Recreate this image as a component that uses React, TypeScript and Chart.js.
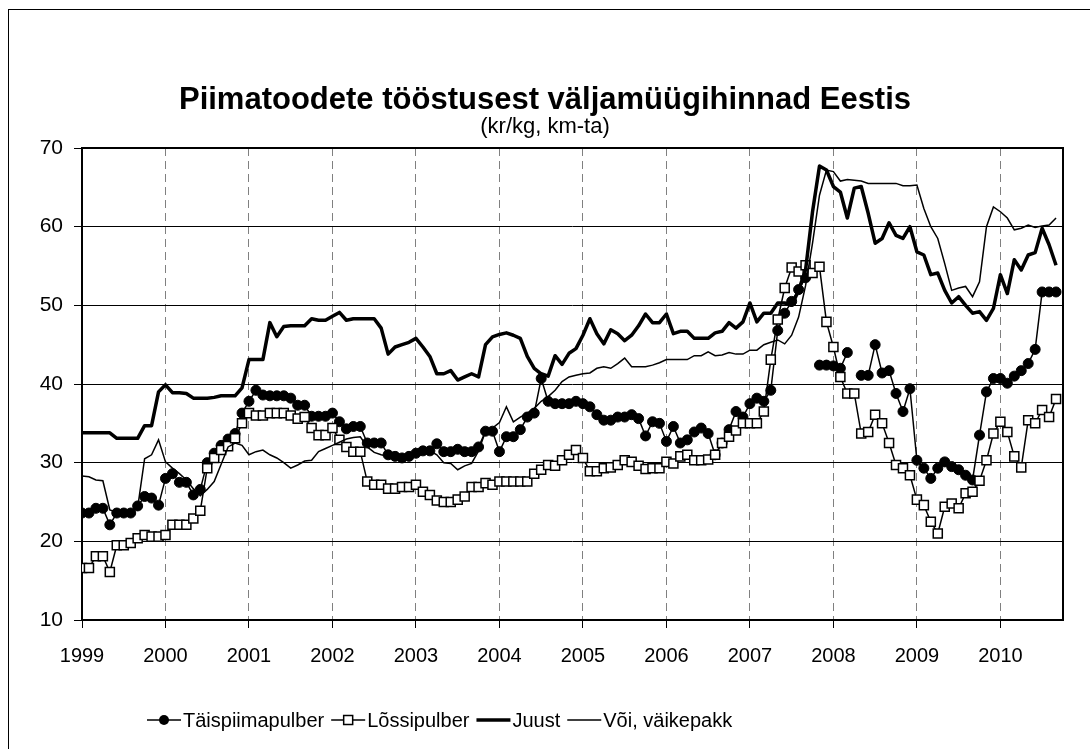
import React, { useEffect, useRef } from 'react';
import { Chart, registerables } from 'chart.js';

Chart.register(...registerables);

const FONT = '"Liberation Sans", Arial, Helvetica, sans-serif';

const titleText = 'Piimatoodete tööstusest väljamüügihinnad Eestis';
const subtitleText = '(kr/kg, km-ta)';

const yearLabels = ['1999', '2000', '2001', '2002', '2003', '2004', '2005', '2006', '2007', '2008', '2009', '2010'];
const yTicks = [10, 20, 30, 40, 50, 60, 70];

const seriesNames = ['Täispiimapulber', 'Lõssipulber', 'Juust', 'Või, väikepakk'];

// monthly values, Jan 1999 ... Sep 2010 (kr/kg)
const taispiimapulber: (number | null)[] = [
  23.6, 23.6, 24.2, 24.2, 22.1, 23.6, 23.6, 23.6, 24.5, 25.7, 25.5, 24.6,
  28.0, 28.6, 27.5, 27.5, 25.9, 26.6, 30.0, 31.2, 32.2, 33.0, 33.7, 36.3,
  37.8, 39.2, 38.6, 38.5, 38.5, 38.5, 38.2, 37.3, 37.3, 35.9, 35.9, 35.9,
  36.3, 35.2, 34.3, 34.6, 34.6, 32.5, 32.5, 32.5, 31.0, 30.8, 30.6, 30.8,
  31.2, 31.5, 31.5, 32.4, 31.4, 31.4, 31.7, 31.4, 31.4, 32.0, 34.0, 34.0,
  31.4, 33.3, 33.3, 34.2, 35.8, 36.3, 40.7, 37.8, 37.5, 37.5, 37.5, 37.8,
  37.5, 37.1, 36.1, 35.4, 35.4, 35.8, 35.8, 36.1, 35.6, 33.4, 35.2, 35.0,
  32.7, 34.6, 32.5, 32.9, 33.9, 34.4, 33.7, 31.0, 32.5, 34.2, 36.5, 35.8,
  37.5, 38.2, 37.8, 39.2, 46.8, 49.0, 50.5, 52.0, 53.5, null, 42.4, 42.4,
  42.3, 42.0, 44.0, null, 41.1, 41.1, 45.0, 41.4, 41.7, 38.8, 36.5, 39.4,
  30.3, 29.3, 28.0, 29.3, 30.1, 29.5, 29.1, 28.4, 27.8, 33.5, 39.0, 40.7,
  40.7, 40.1, 41.0, 41.7, 42.6, 44.4, 51.7, 51.7, 51.7,
];

const lossipulber: (number | null)[] = [
  16.6, 16.6, 18.1, 18.1, 16.1, 19.5, 19.5, 19.8, 20.4, 20.8, 20.6, 20.6,
  20.8, 22.1, 22.1, 22.1, 22.9, 23.9, 29.3, 30.6, 31.6, 32.1, 33.1, 35.0,
  36.3, 36.0, 36.0, 36.3, 36.3, 36.3, 36.0, 35.6, 35.8, 34.4, 33.5, 33.5,
  34.4, 32.9, 32.0, 31.4, 31.4, 27.6, 27.2, 27.2, 26.7, 26.7, 26.9, 26.9,
  27.2, 26.3, 25.9, 25.2, 25.0, 25.0, 25.3, 25.7, 26.9, 26.9, 27.4, 27.2,
  27.6, 27.6, 27.6, 27.6, 27.6, 28.6, 29.1, 29.7, 29.6, 30.3, 31.0, 31.6,
  30.6, 28.9, 28.9, 29.3, 29.4, 29.7, 30.3, 30.1, 29.6, 29.2, 29.3, 29.3,
  30.1, 29.9, 30.8, 31.0, 30.3, 30.3, 30.4, 31.0, 32.5, 33.3, 34.1, 35.0,
  35.0, 35.0, 36.5, 43.1, 48.2, 52.2, 54.8, 54.3, 55.1, 54.1, 54.9, 47.9,
  44.7, 40.9, 38.8, 38.8, 33.7, 33.9, 36.1, 35.0, 32.5, 29.7, 29.3, 28.4,
  25.3, 24.6, 22.5, 21.0, 24.4, 24.8, 24.2, 26.1, 26.3, 27.7, 30.3, 33.7,
  35.2, 33.9, 30.8, 29.4, 35.4, 35.0, 36.7, 35.8, 38.1,
];

const juust: (number | null)[] = [
  33.8, 33.8, 33.8, 33.8, 33.8, 33.1, 33.1, 33.1, 33.1, 34.7, 34.7, 39.0,
  39.9, 38.9, 38.9, 38.8, 38.2, 38.2, 38.2, 38.3, 38.5, 38.5, 38.5, 39.5,
  43.1, 43.1, 43.1, 47.8, 46.0, 47.3, 47.4, 47.4, 47.4, 48.3, 48.1, 48.1,
  48.6, 49.1, 48.1, 48.3, 48.3, 48.3, 48.3, 47.1, 43.8, 44.7, 45.0, 45.3,
  45.8, 44.7, 43.5, 41.3, 41.3, 41.7, 40.5, 40.9, 41.3, 40.9, 45.0, 46.0,
  46.3, 46.5, 46.2, 45.8, 43.5, 42.0, 41.3, 41.0, 43.6, 42.5, 43.9, 44.5,
  46.2, 48.3, 46.4, 45.1, 46.9, 46.4, 45.5, 46.2, 47.4, 48.9, 47.8, 47.8,
  48.9, 46.4, 46.7, 46.7, 45.8, 45.8, 45.8, 46.5, 46.7, 47.8, 47.1, 47.9,
  50.3, 47.9, 49.0, 49.0, 50.3, 50.3, 50.0, 51.9, 54.5, 61.9, 67.7, 67.2,
  65.1, 64.4, 61.1, 64.9, 65.1, 61.7, 57.9, 58.5, 60.5, 58.9, 58.5, 60.0,
  56.8, 56.4, 53.9, 54.1, 51.9, 50.3, 51.1, 50.0, 49.0, 49.2, 48.1, 49.6,
  53.9, 51.5, 55.8, 54.5, 56.4, 56.7, 59.8, 57.7, 55.1,
];

const voiVaikepakk: (number | null)[] = [
  28.3, 28.2, 27.8, 27.7, 24.0, 23.7, 23.7, 23.7, 24.3, 30.5, 31.0, 32.9,
  30.1, 29.3, 28.6, 27.8, 26.7, 25.8, 26.6, 27.6, 29.8, 32.0, 32.5, 32.2,
  31.0, 31.4, 31.6, 31.0, 30.6, 30.0, 29.3, 29.7, 30.2, 30.3, 31.4, 31.8,
  32.2, 32.6, 33.0, 33.2, 33.3, 32.0, 31.3, 31.0, 30.8, 30.8, 30.8, 30.8,
  31.2, 31.5, 31.5, 31.0, 30.0, 29.9, 29.1, 29.6, 29.9, 31.5, 34.0, 34.4,
  35.1, 37.1, 35.2, 35.8, 36.3, 36.9, 37.8, 38.4, 39.2, 40.3, 40.9, 41.1,
  41.3, 41.4, 42.0, 42.2, 42.0, 42.6, 43.3, 42.2, 42.2, 42.2, 42.4, 42.7,
  43.1, 43.1, 43.1, 43.1, 43.6, 43.6, 44.1, 43.6, 43.7, 44.0, 43.8, 43.8,
  44.3, 44.3, 45.0, 45.3, 45.6, 45.1, 46.2, 48.5, 52.5, 57.9, 64.0, 67.2,
  67.0, 65.8, 66.0, 65.9, 65.8, 65.5, 65.5, 65.5, 65.5, 65.5, 65.2, 65.2,
  65.3, 62.3, 60.0, 58.5, 55.3, 51.9, 52.2, 52.4, 51.1, 53.0, 60.0, 62.5,
  61.9, 61.1, 59.6, 59.8, 60.2, 59.9, 60.1, 60.2, 61.1,
];

const toPoints = (arr: (number | null)[]) => arr.map((v, i) => ({ x: i, y: v }));

const drawMarker = (ctx: CanvasRenderingContext2D, kind: string, x: number, y: number) => {
  if (kind === 'circle') {
    ctx.beginPath();
    ctx.arc(x, y, 5, 0, Math.PI * 2);
    ctx.fillStyle = '#000';
    ctx.fill();
  } else if (kind === 'rect') {
    ctx.beginPath();
    ctx.rect(x - 4.5, y - 4.5, 9, 9);
    ctx.fillStyle = '#fff';
    ctx.fill();
    ctx.lineWidth = 1.5;
    ctx.strokeStyle = '#000';
    ctx.stroke();
  }
};

const legendKinds = ['circle', 'rect', 'none', 'none'];
const legendWidths = [1.5, 1.5, 3.5, 1.5];

const decorPlugin = {
  id: 'decor',
  beforeDraw(chart: any) {
    const { ctx, width, height } = chart;
    ctx.save();
    ctx.fillStyle = '#fff';
    ctx.fillRect(0, 0, width, height);
    ctx.strokeStyle = '#000';
    ctx.lineWidth = 1;
    ctx.strokeRect(8.5, 9.5, width + 50, height + 50);
    ctx.fillStyle = '#000';
    ctx.textAlign = 'center';
    ctx.textBaseline = 'alphabetic';
    ctx.font = `bold 31px ${FONT}`;
    ctx.fillText(titleText, 545, 109);
    ctx.font = `22px ${FONT}`;
    ctx.fillText(subtitleText, 545, 133);
    ctx.restore();
  },
  beforeDatasetsDraw(chart: any) {
    const { ctx, chartArea: a } = chart;
    ctx.save();
    ctx.strokeStyle = '#000';
    ctx.lineWidth = 2;
    ctx.strokeRect(a.left, a.top, a.right - a.left, a.bottom - a.top);
    ctx.restore();
  },
  afterDraw(chart: any) {
    const { ctx } = chart;
    ctx.save();
    ctx.font = `20px ${FONT}`;
    ctx.textBaseline = 'middle';
    ctx.textAlign = 'left';
    const y = 720;
    let x = 147;
    seriesNames.forEach((name, i) => {
      ctx.strokeStyle = '#000';
      ctx.lineWidth = legendWidths[i];
      ctx.beginPath();
      ctx.moveTo(x, y);
      ctx.lineTo(x + 34, y);
      ctx.stroke();
      drawMarker(ctx, legendKinds[i], x + 17, y);
      x += 36;
      ctx.fillStyle = '#000';
      ctx.fillText(name, x, y + 1);
      x += ctx.measureText(name).width + 7;
    });
    ctx.restore();
  },
};

export default function App() {
  const canvasRef = useRef<HTMLCanvasElement | null>(null);

  useEffect(() => {
    const canvas = canvasRef.current;
    if (!canvas) return;
    const chart = new Chart(canvas, {
      type: 'line',
      data: {
        datasets: [
          {
            label: seriesNames[0],
            data: toPoints(taispiimapulber),
            borderColor: '#000',
            backgroundColor: '#000',
            borderWidth: 1.5,
            pointStyle: 'circle',
            pointRadius: 5,
            pointBorderWidth: 1,
            pointBackgroundColor: '#000',
            pointBorderColor: '#000',
            tension: 0,
            spanGaps: false,
            order: 3,
          },
          {
            label: seriesNames[1],
            data: toPoints(lossipulber),
            borderColor: '#000',
            backgroundColor: '#fff',
            borderWidth: 1.5,
            pointStyle: 'rect',
            pointRadius: 6.4,
            pointBorderWidth: 1.5,
            pointBackgroundColor: '#fff',
            pointBorderColor: '#000',
            tension: 0,
            order: 2,
          },
          {
            label: seriesNames[2],
            data: toPoints(juust),
            borderColor: '#000',
            borderWidth: 3.5,
            pointRadius: 0,
            tension: 0,
            borderJoinStyle: 'round',
            order: 1,
          },
          {
            label: seriesNames[3],
            data: toPoints(voiVaikepakk),
            borderColor: '#000',
            borderWidth: 1.5,
            pointRadius: 0,
            tension: 0,
            order: 0,
          },
        ],
      },
      options: {
        responsive: false,
        animation: false,
        events: [],
        layout: { padding: { left: 0, top: 148, right: 27, bottom: 69 } },
        plugins: {
          legend: { display: false },
          title: { display: false },
          tooltip: { enabled: false },
        },
        scales: {
          x: {
            type: 'linear',
            min: 0,
            max: 141,
            afterBuildTicks: (scale: any) => {
              scale.ticks = yearLabels.map((_, i) => ({ value: i * 12 }));
            },
            afterFit: (scale: any) => {
              scale.height = 60;
            },
            ticks: {
              autoSkip: false,
              maxRotation: 0,
              padding: 16,
              color: '#000',
              font: { family: FONT, size: 20 },
              callback: (v: any) => yearLabels[Math.round(Number(v) / 12)] ?? '',
            },
            grid: {
              color: '#808080',
              lineWidth: 1,
              drawTicks: true,
              tickLength: 8,
              tickColor: '#000',
              tickWidth: 1,
            },
            border: { display: false, dash: [8, 5] },
          },
          y: {
            type: 'linear',
            min: 10,
            max: 70,
            afterBuildTicks: (scale: any) => {
              scale.ticks = yTicks.map((v) => ({ value: v }));
            },
            afterFit: (scale: any) => {
              scale.width = 82;
            },
            ticks: {
              padding: 11,
              color: '#000',
              font: { family: FONT, size: 21 },
            },
            grid: {
              color: '#000',
              lineWidth: 1,
              tickLength: 8,
              tickColor: '#000',
            },
            border: { display: false },
          },
        },
      },
      plugins: [decorPlugin],
    } as any);
    return () => chart.destroy();
  }, []);

  return (
    <div style={{ position: 'absolute', left: 0, top: 0, width: 1090, height: 749, background: '#fff' }}>
      <canvas ref={canvasRef} width={1090} height={749} style={{ display: 'block' }} />
    </div>
  );
}
